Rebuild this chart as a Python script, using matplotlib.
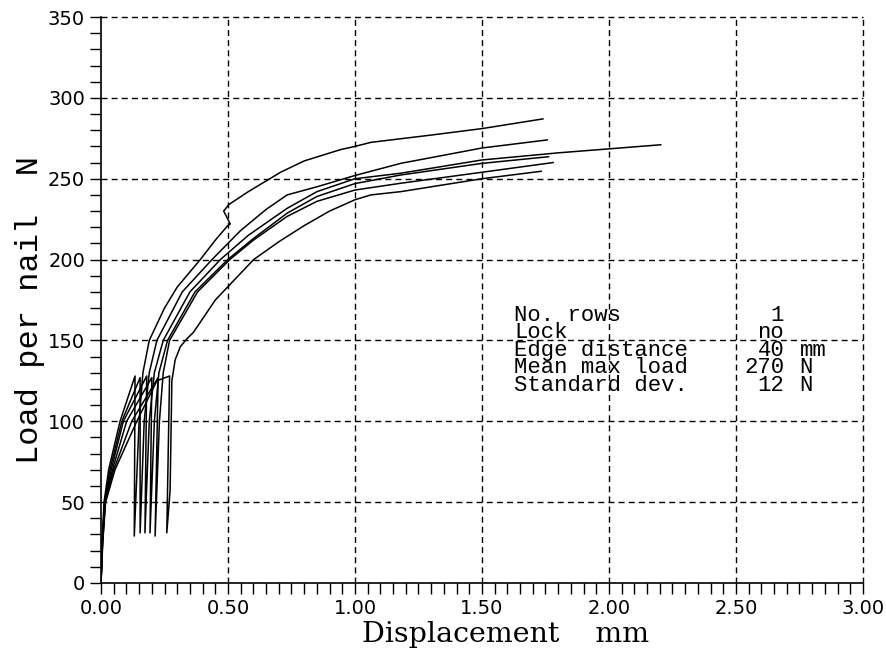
import matplotlib
matplotlib.use("Agg")
import matplotlib.pyplot as plt
from matplotlib.ticker import MultipleLocator, FormatStrFormatter

# six load-displacement curves (mm, N)
c1_x = [0, 0.004, 0.012, 0.03, 0.075, 0.134, 0.131, 0.15, 0.165, 0.19, 0.25, 0.30, 0.391, 0.45, 0.499, 0.509, 0.483, 0.503, 0.58, 0.654, 0.707, 0.80, 0.943, 1.00, 1.063, 1.30, 1.50, 1.74]
c1_y = [0, 25, 50, 70, 100, 128, 29, 100, 130, 150, 170, 183, 200, 212, 221, 222, 230, 234, 242, 249, 254, 261, 268, 270, 272.5, 277, 281, 287]

c2_x = [0, 0.005, 0.014, 0.035, 0.082, 0.154, 0.154, 0.17, 0.19, 0.22, 0.32, 0.437, 0.55, 0.65, 0.733, 0.85, 1.00, 1.18, 1.50, 1.757]
c2_y = [0, 25, 50, 70, 100, 127, 31, 100, 130, 150, 180, 200, 218, 231, 240, 245, 252, 259.5, 269, 274]

c3_x = [0, 0.005, 0.015, 0.04, 0.088, 0.18, 0.173, 0.19, 0.21, 0.245, 0.35, 0.47, 0.58, 0.733, 0.85, 1.00, 1.18, 1.50, 1.80, 2.204]
c3_y = [0, 25, 50, 70, 100, 128, 31, 100, 130, 150, 180, 200, 215, 231.7, 242, 250, 253.4, 261.6, 266, 271]

c4_x = [0, 0.006, 0.016, 0.045, 0.101, 0.20, 0.193, 0.21, 0.228, 0.262, 0.37, 0.499, 0.60, 0.733, 0.85, 1.00, 1.18, 1.50, 1.762]
c4_y = [0, 25, 50, 70, 100, 127, 31, 100, 130, 150, 180, 200, 213, 228.7, 239, 247, 252.3, 259.5, 263.6]

c5_x = [0, 0.006, 0.017, 0.05, 0.121, 0.225, 0.213, 0.23, 0.245, 0.27, 0.38, 0.507, 0.60, 0.733, 0.85, 1.00, 1.18, 1.50, 1.78]
c5_y = [0, 25, 50, 70, 100, 127, 29, 100, 130, 150, 180, 200, 212, 226.7, 236, 243, 247.2, 254, 260]

c6_x = [0, 0.007, 0.018, 0.055, 0.141, 0.22, 0.27, 0.259, 0.272, 0.279, 0.292, 0.312, 0.338, 0.364, 0.45, 0.601, 0.70, 0.80, 0.90, 1.00, 1.063, 1.18, 1.50, 1.733]
c6_y = [0, 25, 50, 70, 100, 125, 128, 31, 57, 125, 138, 146, 151, 155, 175, 200, 211, 221, 230, 237, 240, 242, 250, 254.6]

curves = [(c1_x, c1_y), (c2_x, c2_y), (c3_x, c3_y), (c4_x, c4_y), (c5_x, c5_y), (c6_x, c6_y)]

info_labels = ["No. rows", "Lock", "Edge distance", "Mean max load", "Standard dev."]
info_numbers = ["1", "no", "40", "270", "12"]
info_units = ["", "", "mm", "N", "N"]

x_ticks = [0.0, 0.5, 1.0, 1.5, 2.0, 2.5, 3.0]
y_ticks = [0, 50, 100, 150, 200, 250, 300, 350]

mono_font = ['Liberation Mono', 'DejaVu Sans Mono']


def main():
    fig = plt.figure(figsize=(8.86, 6.55), dpi=100)
    ax = fig.add_axes([0.114, 0.110, 0.860, 0.864])

    for xs, ys in curves:
        ax.plot(xs, ys, color='black', lw=1.1)

    ax.set_xlim(0, 3.0)
    ax.set_ylim(0, 350)
    ax.set_xticks(x_ticks)
    ax.set_yticks(y_ticks)
    ax.xaxis.set_minor_locator(MultipleLocator(0.05))
    ax.yaxis.set_minor_locator(MultipleLocator(10))
    ax.xaxis.set_major_formatter(FormatStrFormatter('%.2f'))
    ax.tick_params(which='both', direction='out', length=8, width=1, color='black')
    for lab in ax.get_xticklabels() + ax.get_yticklabels():
        lab.set_fontsize(14)

    for s in ('top', 'right'):
        ax.spines[s].set_visible(False)
    for s in ('left', 'bottom'):
        ax.spines[s].set_linewidth(1.2)

    # dashed grid, including the top and right edges
    grid_style = dict(color='black', lw=1.0, linestyle=(0, (4.3, 3)))
    for v in x_ticks[1:]:
        ax.axvline(v, clip_on=False, **grid_style)
    for v in y_ticks[1:]:
        ax.axhline(v, clip_on=False, **grid_style)

    # parameter table, one text per column
    box_y = 144
    ax.text(1.627, box_y, "\n".join(info_labels), family=mono_font, fontsize=16,
            va='center', ha='left', linespacing=0.78)
    ax.text(2.69, box_y, "\n".join(info_numbers), family=mono_font, fontsize=16,
            va='center', ha='right', ma='right', linespacing=0.78)
    ax.text(2.75, box_y, "\n".join(info_units), family=mono_font, fontsize=16,
            va='center', ha='left', linespacing=0.78)

    fig.text(0.571, 0.031, "Displacement    mm", family=['DejaVu Serif'],
             fontsize=20.5, ha='center', va='center')
    fig.text(0.034, 0.527, "Load per nail  N", family=mono_font, fontsize=23,
             rotation=90, ha='center', va='center')

    fig.savefig("out.png", dpi=100)


if __name__ == '__main__':
    main()
